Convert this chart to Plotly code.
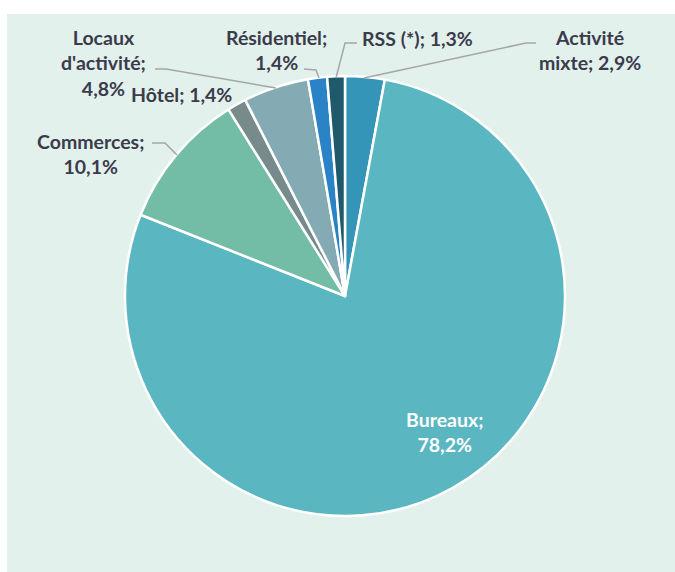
import plotly.graph_objects as go

labels = ["Activité mixte", "Bureaux", "Commerces", "Hôtel", "Locaux d'activité", "Résidentiel", "RSS (*)"]
values = [2.9, 78.2, 10.1, 1.4, 4.8, 1.4, 1.3]
colors = ["#3595b8", "#5ab6c1", "#73bca6", "#778b8c", "#84abb3", "#2a83c6", "#1e596c"]

W, H = 675, 572


def px(x):
    return x / W


def py(y):
    return 1 - y / H


def pct(v):
    return f"{v:.1f}".replace(".", ",") + "%"


fig = go.Figure(go.Pie(
    labels=labels, values=values, sort=False, direction="clockwise", rotation=0,
    marker=dict(colors=colors, line=dict(color="white", width=2.5)),
    textinfo="none", hoverinfo="label+percent", showlegend=False,
    domain=dict(x=[px(125), px(565)], y=[py(516), py(76)]),
))

FONT = "Lato"
TXT = "#3b3b4b"

ann = [
    ("Activité<br>mixte; " + pct(values[0]), 590, 50, TXT),
    ("Bureaux;<br>" + pct(values[1]), 444, 432, "white"),
    ("Commerces;<br>" + pct(values[2]), 90, 154, TXT),
    ("Hôtel; " + pct(values[3]), 182, 95, TXT),
    ("Locaux<br>d'activité;<br>" + pct(values[4]), 103, 63, TXT),
    ("Résidentiel;<br>" + pct(values[5]), 276, 50, TXT),
    ("RSS (*); " + pct(values[6]), 417, 38, TXT),
]
annotations = [
    dict(text=t, x=px(x), y=py(y), xref="paper", yref="paper", showarrow=False,
         xanchor="center", yanchor="middle", align="center",
         font=dict(family=FONT, size=19.5, color=c, weight="bold"))
    for t, x, y, c in ann
]

leaders = [
    [(364, 78), (526, 43), (536, 43)],
    [(336, 78), (345, 43), (357, 43)],
    [(319, 78), (316, 70), (304, 69)],
    [(276, 88), (166, 69), (155, 69)],
    [(177, 155), (165, 143), (152, 143)],
]
shapes = [dict(type="rect", xref="paper", yref="paper", x0=px(7), x1=1.05, y0=-0.05, y1=py(14),
               fillcolor="#e2f1ec", line=dict(width=0), layer="below")]
for pts in leaders:
    path = "M " + " L ".join(f"{px(x)},{py(y)}" for x, y in pts)
    shapes.append(dict(type="path", xref="paper", yref="paper", path=path,
                       line=dict(color="#a6a6a6", width=1.5)))

fig.update_layout(
    width=W, height=H, margin=dict(l=0, r=0, t=0, b=0),
    paper_bgcolor="white", plot_bgcolor="white",
    annotations=annotations, shapes=shapes,
)
fig.write_html(
    "out.html",
    config={"displayModeBar": False},
    post_script="document.body.style.margin='0';document.body.style.overflow='hidden';"
                "document.documentElement.style.overflow='hidden';",
)
